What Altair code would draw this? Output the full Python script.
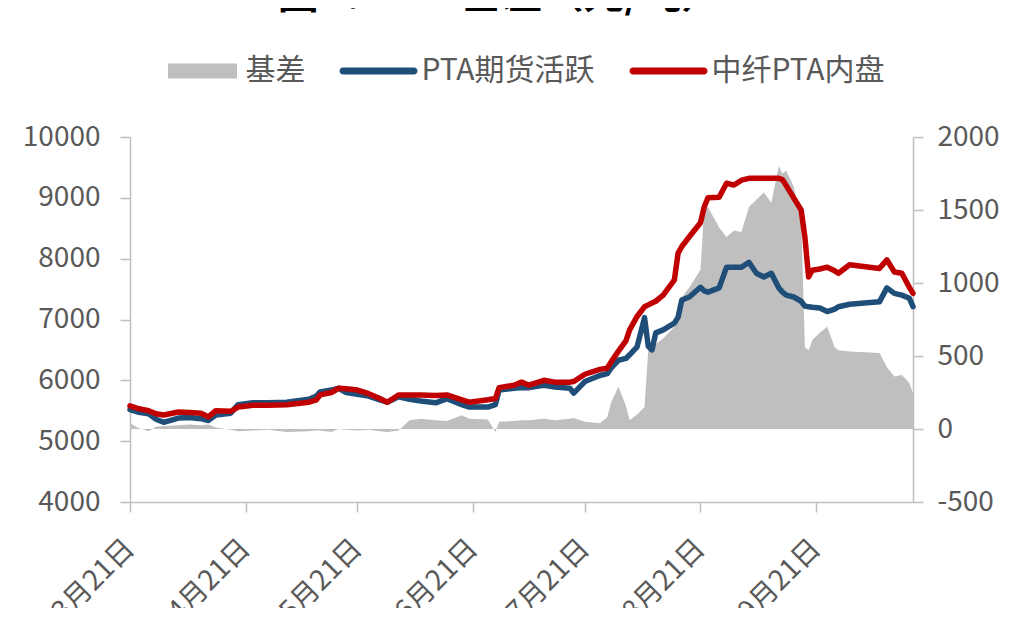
import altair as alt
import pandas as pd

# ---------------- data ----------------
dates = [
    "2018-03-21", "2018-03-23", "2018-03-26", "2018-03-28", "2018-03-30",
    "2018-04-03", "2018-04-06", "2018-04-09", "2018-04-11", "2018-04-13",
    "2018-04-17", "2018-04-19", "2018-04-23", "2018-04-27", "2018-05-02",
    "2018-05-08", "2018-05-10", "2018-05-11", "2018-05-14", "2018-05-16",
    "2018-05-18", "2018-05-21", "2018-05-24", "2018-05-27", "2018-05-29",
    "2018-06-01", "2018-06-04", "2018-06-07", "2018-06-11", "2018-06-14",
    "2018-06-18", "2018-06-20", "2018-06-25", "2018-06-27", "2018-06-28",
    "2018-07-02", "2018-07-04", "2018-07-06", "2018-07-10", "2018-07-13",
    "2018-07-17", "2018-07-18", "2018-07-21", "2018-07-25", "2018-07-27",
    "2018-07-28", "2018-07-30", "2018-08-01", "2018-08-02", "2018-08-04",
    "2018-08-06", "2018-08-07", "2018-08-08", "2018-08-09", "2018-08-11",
    "2018-08-14", "2018-08-15", "2018-08-16", "2018-08-18", "2018-08-21",
    "2018-08-22", "2018-08-23", "2018-08-26", "2018-08-28", "2018-08-30",
    "2018-09-01", "2018-09-03", "2018-09-05", "2018-09-07", "2018-09-09",
    "2018-09-11", "2018-09-12", "2018-09-13", "2018-09-15", "2018-09-17",
    "2018-09-18", "2018-09-19", "2018-09-20", "2018-09-22", "2018-09-24",
    "2018-09-26", "2018-09-27", "2018-09-30", "2018-10-08", "2018-10-10",
    "2018-10-12", "2018-10-14", "2018-10-16", "2018-10-17",
]
spot = [  # 中纤PTA内盘
    5580, 5540, 5500, 5450, 5430,
    5480, 5470, 5460, 5400, 5500,
    5490, 5560, 5590, 5590, 5600,
    5640, 5680, 5760, 5800, 5870,
    5860, 5840, 5780, 5700, 5640,
    5760, 5760, 5760, 5750, 5760,
    5680, 5640, 5680, 5700, 5880,
    5920, 5970, 5920, 6000, 5970,
    5970, 5980, 6100, 6180, 6200,
    6300, 6480, 6650, 6830, 7050,
    7210, 7240, 7270, 7300, 7400,
    7650, 8090, 8200, 8360, 8590,
    8850, 9000, 9010, 9240, 9210,
    9290, 9320, 9320, 9320, 9320,
    9320, 9300, 9200, 9000, 8800,
    8360, 7700, 7810, 7830, 7860,
    7800, 7760, 7900, 7840, 7980,
    7780, 7760, 7530, 7430,
]
futures = [  # PTA期货活跃
    5520, 5480, 5450, 5360, 5310,
    5380, 5390, 5370, 5340, 5430,
    5460, 5600, 5630, 5630, 5640,
    5690, 5740, 5810, 5840, 5870,
    5800, 5770, 5740, 5680, 5640,
    5730, 5690, 5660, 5630, 5700,
    5600, 5560, 5560, 5600, 5840,
    5870, 5880, 5880, 5920, 5890,
    5870, 5790, 5980, 6080, 6110,
    6200, 6330, 6360, 6420, 6550,
    7030, 6560, 6500, 6780, 6830,
    6940, 7040, 7320, 7370, 7530,
    7470, 7450, 7520, 7860, 7860,
    7860, 7940, 7760, 7700, 7760,
    7520, 7450, 7400, 7370, 7300,
    7220, 7210, 7200, 7190, 7130,
    7170, 7210, 7250, 7290, 7520,
    7430, 7400, 7350, 7210,
]
basis = [  # 基差 (right axis)
    40, 10, -15, 15, 20,
    25, 30, 25, 30, 10,
    -5, -15, -10, -5, -20,
    -15, -10, -10, -20, 0,
    -5, -10, -5, -15, -20,
    -10, 60, 70, 60, 55,
    95, 70, 65, -20, 50,
    55, 60, 60, 70, 60,
    70, 75, 50, 40, 80,
    180, 290, 160, 60, 100,
    150, 540, 560, 580, 620,
    700, 860, 900, 970, 1090,
    1500, 1520, 1380, 1315, 1360,
    1350, 1520, 1570, 1620, 1550,
    1800, 1750, 1770, 1660, 1450,
    560, 540, 610, 660, 700,
    560, 540, 530, 520, 425,
    360, 370, 315, 245,
]

series_names = ["基差", "PTA期货活跃", "中纤PTA内盘"]
series_colors = ["#BFBFBF", "#1F4E79", "#C00000"]
title_text = ["图2：PTA基差（元/吨）"]
left_ticks = [4000, 5000, 6000, 7000, 8000, 9000, 10000]
right_ticks = [-500, 0, 500, 1000, 1500, 2000]
tick_months = [3, 4, 5, 6, 7, 8, 9]

FONT = "Noto Sans CJK SC"
LABEL = "#595959"
AXIS = "#BFBFBF"

df = pd.DataFrame({
    "date": pd.to_datetime(dates),
    "spot": spot,
    "fut": futures,
    "basis": basis,
})

x_scale = alt.Scale(domain=[alt.DateTime(year=2018, month=3, date=21),
                            alt.DateTime(year=2018, month=10, date=17)])
x_axis = alt.Axis(
    values=[alt.DateTime(year=2018, month=m, date=21) for m in tick_months],
    format="%-m月%d日", labelAngle=-45, labelAlign="right", labelBaseline="middle",
    labelFontSize=28, labelColor=LABEL, labelFont=FONT, tickSize=10,
    labelPadding=32, labelFlush=False, labelOverlap=False, grid=False, title=None,
    domainColor=AXIS, tickColor=AXIS, domainWidth=1.5, tickWidth=1.5,
)
x_enc = alt.X("date:T", scale=x_scale, axis=x_axis)

hyphen_minus = "(datum.value < 0 ? '-' : '') + abs(datum.value)"
left_axis = alt.Axis(
    orient="left", values=left_ticks, labelExpr=hyphen_minus, labelFontSize=28,
    labelColor=LABEL, labelFont=FONT, tickSize=10, labelPadding=20, grid=False,
    title=None, domainColor=AXIS, tickColor=AXIS, domainWidth=1.5, tickWidth=1.5,
)
right_axis = alt.Axis(
    orient="right", values=right_ticks, labelExpr=hyphen_minus, labelFontSize=28,
    labelColor=LABEL, labelFont=FONT, tickSize=10, labelPadding=14, grid=False,
    title=None, domainColor=AXIS, tickColor=AXIS, domainWidth=1.5, tickWidth=1.5,
)
left_scale = alt.Scale(domain=[4000, 10000], nice=False, zero=False)
right_scale = alt.Scale(domain=[-500, 2000], nice=False)

area = alt.Chart(df).mark_area(color=series_colors[0], opacity=1).encode(
    x=x_enc,
    y=alt.Y("basis:Q", scale=right_scale, axis=right_axis),
    y2=alt.datum(0),
)

blue = alt.Chart(df).mark_line(color=series_colors[1], strokeWidth=5.5,
                               strokeJoin="round", strokeCap="round").encode(
    x=x_enc,
    y=alt.Y("fut:Q", scale=left_scale, axis=left_axis),
)
red = alt.Chart(df).mark_line(color=series_colors[2], strokeWidth=5.5,
                              strokeJoin="round", strokeCap="round").encode(
    x=x_enc,
    y=alt.Y("spot:Q", scale=left_scale, axis=None),
)

rect_path = "M-0.885,-0.192H0.885V0.192H-0.885Z"
line_path = "M-0.91,-0.09H0.91A0.09,0.09 0 0 1 0.91,0.09H-0.91A0.09,0.09 0 0 1 -0.91,-0.09Z"
legend_df = pd.DataFrame({"series": series_names})
leg = alt.Legend(
    orient="none", legendX=33.5, legendY=-105, direction="horizontal", title=None,
    labelFontSize=30, labelColor=LABEL, labelFont=FONT, labelLimit=400,
    symbolSize=6084, symbolOpacity=1, symbolStrokeWidth=0, labelOffset=4,
    columnPadding=34, padding=0,
)
legend_layer = alt.Chart(legend_df).mark_point(filled=True, opacity=0, strokeWidth=0).encode(
    color=alt.Color("series:N", scale=alt.Scale(domain=series_names, range=series_colors), legend=leg),
    shape=alt.Shape("series:N", scale=alt.Scale(domain=series_names, range=[rect_path, line_path, line_path]), legend=leg),
)

title_df = pd.DataFrame({"t": title_text})
title_layer = alt.Chart(title_df).mark_text(
    font=FONT, fontSize=41, fontWeight="bold", color="black",
    align="center", baseline="alphabetic",
).encode(text="t:N", x=alt.value(370), y=alt.value(-129))

chart = alt.layer(area, blue, red, legend_layer, title_layer).resolve_scale(
    y="independent"
).properties(
    width=783, height=365,
    autosize=alt.AutoSizeParams(type="none"),
    padding={"left": 122, "top": 129, "right": 88, "bottom": 106},
).configure_view(stroke=None)

chart.save("out.html", embed_options={"renderer": "svg", "actions": False})
